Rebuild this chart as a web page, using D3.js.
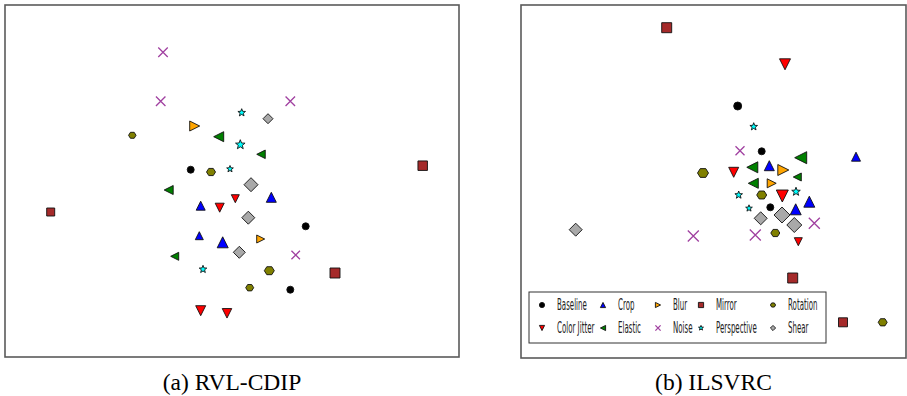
<!doctype html>
<html>
<head>
<meta charset="utf-8">
<script src="https://d3js.org/d3.v7.min.js"></script>
<style>
  body { margin: 0; background: #fff; }
</style>
</head>
<body>
<svg width="907" height="396"></svg>
<script>
// augmentation methods, in legend order (column-major, 5 columns x 2 rows)
const methods = ["Baseline", "Color Jitter", "Crop", "Elastic", "Blur", "Noise", "Mirror", "Perspective", "Rotation", "Shear"];

// embedding points: [method, x, y, weight]
const rvlPoints = [
  ["Baseline", -4.13, 1.13, 1], ["Baseline", 7.37, -4.53, 1], ["Baseline", 5.83, -10.87, 1],
  ["Color Jitter", 0.33, -1.77, 2], ["Color Jitter", -1.23, -2.67, 3], ["Color Jitter", -3.13, -12.97, 4], ["Color Jitter", -0.5, -13.23, 3.5],
  ["Crop", -3.13, -2.47, 3], ["Crop", -3.27, -5.47, 2], ["Crop", -0.93, -6.13, 5], ["Crop", 3.93, -1.63, 4],
  ["Elastic", -1.33, 4.43, 4], ["Elastic", 2.9, 2.67, 2.5], ["Elastic", -6.33, -0.9, 3], ["Elastic", -5.73, -7.53, 2],
  ["Blur", -3.73, 5.5, 4], ["Blur", 2.87, -5.8, 2],
  ["Noise", -6.9, 12.87, 3.5], ["Noise", -7.13, 7.97, 3.5], ["Noise", 5.83, 7.97, 3.5], ["Noise", 6.37, -7.4, 2.5],
  ["Mirror", -18.13, -3.1, 2], ["Mirror", 19.07, 1.53, 3.5], ["Mirror", 10.3, -9.2, 4],
  ["Perspective", 0.97, 6.83, 2], ["Perspective", 0.83, 3.63, 4], ["Perspective", -0.2, 1.2, 1], ["Perspective", -2.9, -8.83, 2],
  ["Rotation", -9.97, 4.57, 1.5], ["Rotation", -2.1, 0.9, 3], ["Rotation", 3.73, -8.97, 4], ["Rotation", 1.77, -10.67, 2],
  ["Shear", 3.6, 6.23, 4], ["Shear", 1.9, -0.37, 8], ["Shear", 1.63, -3.67, 7], ["Shear", 0.73, -7.13, 6]
];

const ilsvrcPoints = [
  ["Baseline", 2.42, 7.55, 2], ["Baseline", 4.82, 3.02, 1], ["Baseline", 5.68, -2.58, 1],
  ["Color Jitter", 7.15, 11.72, 5], ["Color Jitter", 2.02, 0.92, 4], ["Color Jitter", 6.88, -1.45, 6], ["Color Jitter", 8.48, -6.02, 2],
  ["Crop", 14.25, 2.48, 3], ["Crop", 5.58, 1.58, 4], ["Crop", 9.58, -2.02, 5], ["Crop", 8.22, -2.78, 5],
  ["Elastic", 8.72, 2.38, 6], ["Elastic", 3.88, 1.42, 5], ["Elastic", 8.38, 0.45, 2], ["Elastic", 3.98, -0.18, 4],
  ["Blur", 6.98, 1.15, 5], ["Blur", 5.82, -0.18, 3],
  ["Noise", 2.65, 3.08, 3], ["Noise", 10.08, -4.18, 5], ["Noise", -2.02, -5.45, 5], ["Noise", 4.18, -5.35, 5],
  ["Mirror", -4.68, 15.38, 4], ["Mirror", 7.92, -9.65, 4], ["Mirror", 12.95, -14.08, 3],
  ["Perspective", 4.02, 5.48, 2], ["Perspective", 2.52, -1.35, 2], ["Perspective", 8.25, -1.02, 3], ["Perspective", 3.55, -2.68, 1],
  ["Rotation", -1.05, 0.85, 5], ["Rotation", 4.82, -1.35, 4], ["Rotation", 6.18, -5.15, 3], ["Rotation", 16.92, -14.08, 3],
  ["Shear", -13.78, -4.82, 7], ["Shear", 4.72, -3.68, 7], ["Shear", 6.85, -3.35, 10], ["Shear", 8.08, -4.35, 9]
];

const captions = ["(a) RVL-CDIP", "(b) ILSVRC"];

const markerStyle = {
  "Baseline":     { shape: "circle",  fill: "#000000" },
  "Color Jitter": { shape: "down",    fill: "#ff0000" },
  "Crop":         { shape: "up",      fill: "#0000ff" },
  "Elastic":      { shape: "left",    fill: "#008000" },
  "Blur":         { shape: "right",   fill: "#ffa500" },
  "Noise":        { shape: "x",       fill: "none" },
  "Mirror":       { shape: "square",  fill: "#a52a2a" },
  "Perspective":  { shape: "star",    fill: "#00ffff" },
  "Rotation":     { shape: "hexagon", fill: "#808000" },
  "Shear":        { shape: "diamond", fill: "#a9a9a9" }
};

// half-size h in px
const shapePath = (shape, h) => {
  const p = d3.path();
  const poly = (pts) => {
    pts.forEach(([x, y], i) => i ? p.lineTo(x, y) : p.moveTo(x, y));
    p.closePath();
  };
  switch (shape) {
    case "circle": p.arc(0, 0, h, 0, 2 * Math.PI); break;
    case "up": poly([[0, -h], [h, h], [-h, h]]); break;
    case "down": poly([[0, h], [h, -h], [-h, -h]]); break;
    case "left": poly([[-h, 0], [h, -h], [h, h]]); break;
    case "right": poly([[h, 0], [-h, -h], [-h, h]]); break;
    case "square": poly([[-h, -h], [h, -h], [h, h], [-h, h]]); break;
    case "diamond": poly([[0, -h], [h, 0], [0, h], [-h, 0]]); break;
    case "hexagon": poly(d3.range(6).map(i => [h * Math.cos(i * Math.PI / 3), h * 0.92 * Math.sin(i * Math.PI / 3)])); break;
    case "star": poly(d3.range(10).map(i => {
      const r = i % 2 ? h * 0.42 : h, a = -Math.PI / 2 + i * Math.PI / 5;
      return [r * Math.cos(a), r * Math.sin(a)];
    })); break;
    case "x":
      p.moveTo(-h, -h); p.lineTo(h, h);
      p.moveTo(h, -h); p.lineTo(-h, h);
      break;
  }
  return p.toString();
};

const svg = d3.select("svg");
const sizeScale = d3.scaleLinear().domain([0, 10]).range([6, 16]);

const styleMarker = (sel) => sel
  .attr("fill", d => markerStyle[d].fill)
  .attr("stroke", d => markerStyle[d].shape === "x" ? "#a040a0" : "#111")
  .attr("stroke-width", d => markerStyle[d].shape === "x" ? 1.3 : 0.9);

const drawPanel = (points, box, xDomain, yDomain, caption, legend) => {
  const g = svg.append("g");
  const x = d3.scaleLinear().domain(xDomain).range([box.x0, box.x1]);
  const y = d3.scaleLinear().domain(yDomain).range([box.y1, box.y0]);

  g.append("rect")
    .attr("x", box.x0).attr("y", box.y0)
    .attr("width", box.x1 - box.x0).attr("height", box.y1 - box.y0)
    .attr("fill", "#fff").attr("stroke", "#5a5a5a").attr("stroke-width", 1.6);

  g.selectAll(".pt")
    .data(points)
    .enter()
      .append("path")
        .attr("class", "pt")
        .attr("transform", d => `translate(${x(d[1])},${y(d[2])})`)
        .attr("d", d => shapePath(markerStyle[d[0]].shape, sizeScale(d[3]) / 2))
        .attr("fill", d => markerStyle[d[0]].fill)
        .attr("stroke", d => markerStyle[d[0]].shape === "x" ? "#a040a0" : "#111")
        .attr("stroke-width", d => markerStyle[d[0]].shape === "x" ? 1.3 : 0.9);

  svg.append("text")
    .attr("x", (box.x0 + box.x1) / 2).attr("y", 390)
    .attr("text-anchor", "middle")
    .attr("font-family", "Liberation Serif, Times New Roman, serif")
    .attr("font-size", 23.5)
    .attr("fill", "#000")
    .text(caption);

  if (legend) {
    const lg = svg.append("g");
    lg.append("rect")
      .attr("x", 529).attr("y", 292).attr("width", 297).attr("height", 51)
      .attr("fill", "#fff").attr("stroke", "#333").attr("stroke-width", 1);
    const colText = [557, 618, 673, 716, 788];
    const rowY = [305, 328];
    const items = lg.selectAll(".lgi")
      .data(methods)
      .enter()
        .append("g")
          .attr("class", "lgi")
          .attr("transform", (d, i) => `translate(${colText[Math.floor(i / 2)]},${rowY[i % 2]})`);
    items.append("path")
      .attr("transform", "translate(-15,0)")
      .attr("d", d => shapePath(markerStyle[d].shape, 2.6))
      .call(styleMarker);
    items.append("text")
      .attr("transform", "scale(0.47,1)")
      .attr("y", 5)
      .attr("font-family", "DejaVu Sans, sans-serif")
      .attr("font-size", 15)
      .attr("fill", "#222")
      .text(d => d);
  }
};

drawPanel(rvlPoints, { x0: 5, x1: 459, y0: 5, y1: 357 }, [-22.7, 22.7], [-17.6, 17.6], captions[0], false);
drawPanel(ilsvrcPoints, { x0: 521, x1: 906, y0: 5, y1: 358 }, [-19.25, 19.25], [-17.65, 17.65], captions[1], true);
</script>
</body>
</html>
